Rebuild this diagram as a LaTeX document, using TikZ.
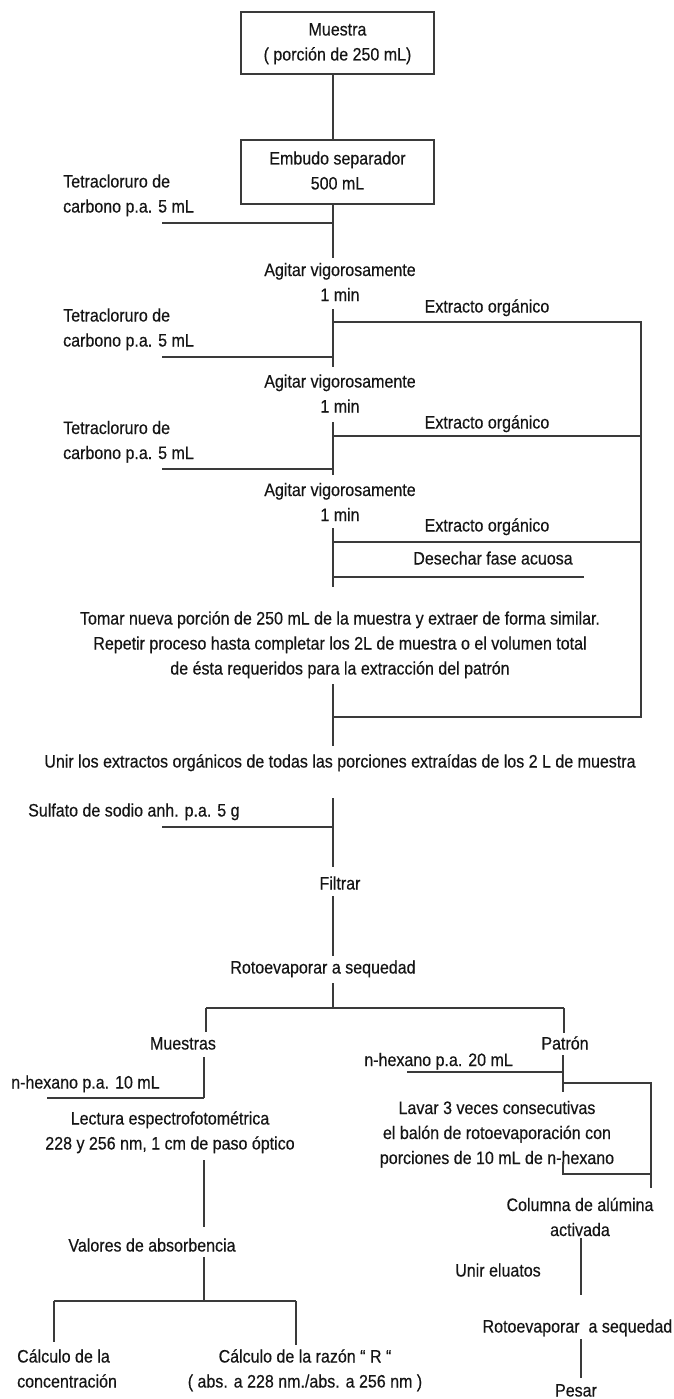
\documentclass[tikz,border=0pt]{standalone}
\usepackage{fontspec}
\setmainfont{Liberation Sans}[FakeStretch=0.89, FakeBold=0.4]
\definecolor{lc}{HTML}{3A3A3A}
\definecolor{tc}{HTML}{151515}
\newcommand{\st}{\rule[-4pt]{0pt}{18pt}}
\begin{document}
\begin{tikzpicture}[x=1pt,y=-1pt,
  font=\fontsize{18}{25}\selectfont,
  ln/.style={line width=1.1pt, draw=lc},
  tx/.style={inner sep=0pt, align=center, text=tc},
  txl/.style={inner sep=0pt, align=left, text=tc, anchor=west},
  procbox/.style={draw=lc, line width=1.1pt, minimum width=193pt, minimum height=62pt, inner sep=0pt, align=center, text=tc}]
\useasboundingbox (0,0) rectangle (673,1399);

% ---------- nodes ----------
\node[procbox] (b1) at (337.5,43) {\st Muestra\\\st( porción de 250 mL)};
\node[procbox, minimum height=64pt] (b2) at (337.5,172) {\st Embudo separador\\\st 500 mL};

\node[txl] (t1) at (63,195) {\st Tetracloruro de\\\st carbono p.a. 5 mL};
\node[txl] (t2) at (63,329) {\st Tetracloruro de\\\st carbono p.a. 5 mL};
\node[txl] (t3) at (63,441.5) {\st Tetracloruro de\\\st carbono p.a. 5 mL};

\node[tx] (ag1) at (340,283.5) {\st Agitar vigorosamente\\\st 1 min};
\node[tx] (ag2) at (340,395) {\st Agitar vigorosamente\\\st 1 min};
\node[tx] (ag3) at (340,503.5) {\st Agitar vigorosamente\\\st 1 min};

\node[tx] (e1) at (487,307.5) {\st Extracto orgánico};
\node[tx] (e2) at (487,423.5) {\st Extracto orgánico};
\node[tx] (e3) at (487,526.5) {\st Extracto orgánico};
\node[tx] (des) at (493,559.5) {\st Desechar fase acuosa};

\node[tx] (tom) at (340,644.5) {\st Tomar nueva porción de 250 mL de la muestra y extraer de forma similar.\\\st Repetir proceso hasta completar los 2L de muestra o el volumen total\\\st de ésta requeridos para la extracción del patrón};

\node[tx] (uni) at (340,762.5) {\st Unir los extractos orgánicos de todas las porciones extraídas de los 2 L de muestra};
\node[txl] (sul) at (28,811.5) {\st Sulfato de sodio anh. p.a. 5 g};
\node[tx] (fil) at (340,884.5) {\st Filtrar};
\node[tx] (rot) at (323,968.5) {\st Rotoevaporar a sequedad};

\node[tx] (mues) at (183,1044.5) {\st Muestras};
\node[tx] (pat) at (565,1044.5) {\st Patrón};

\node[txl] (nh10) at (11,1083.5) {\st n-hexano p.a. 10 mL};
\node[tx, anchor=east] (nh20) at (513,1061) {\st n-hexano p.a. 20 mL};

\node[tx] (lec) at (170,1132) {\st Lectura espectrofotométrica\\\st 228 y 256 nm, 1 cm de paso óptico};
\node[tx] (val) at (152,1246.5) {\st Valores de absorbencia};
\node[txl] (cc) at (17,1370) {\st Cálculo de la\\\st concentración};
\node[tx] (cr) at (305,1370) {\st Cálculo de la razón “ R “\\\st ( abs. a 228 nm./abs. a 256 nm )};

\node[tx] (lav) at (497,1134) {\st Lavar 3 veces consecutivas\\\st el balón de rotoevaporación con\\\st porciones de 10 mL de n-hexano};
\node[tx] (col) at (580,1218.5) {\st Columna de alúmina\\\st activada};
\node[tx] (uel) at (498,1271.5) {\st Unir eluatos};
\node[tx, anchor=east] (rot2) at (672.5,1327.5) {\st Rotoevaporar\ \ a sequedad};
\node[tx] (pes) at (576,1391.5) {\st Pesar};

% ---------- junction coordinates ----------
\coordinate (sp) at (333,0);
\coordinate (a1) at (333,258);
\coordinate (j1) at (333,223);  \coordinate (l1) at (162,223);
\coordinate (a2) at (333,309);  \coordinate (a3) at (333,367);
\coordinate (x1) at (333,322);  \coordinate (r1) at (641,322);
\coordinate (j2) at (333,357);  \coordinate (l2) at (162,357);
\coordinate (a4) at (333,422);  \coordinate (a5) at (333,475);
\coordinate (x2) at (333,436);  \coordinate (r2) at (641,436);
\coordinate (j3) at (333,469);  \coordinate (l3) at (162,469);
\coordinate (a6) at (333,528);  \coordinate (a7) at (333,587);
\coordinate (x3) at (333,542);  \coordinate (r3) at (641,542);
\coordinate (d1) at (333,577);  \coordinate (d2) at (584,577);
\coordinate (a8) at (333,684);  \coordinate (a9) at (333,746);
\coordinate (x4) at (333,717);  \coordinate (r4) at (641,717);
\coordinate (a10) at (333,798); \coordinate (a11) at (333,867);
\coordinate (j4) at (333,827);  \coordinate (l4) at (162,827);
\coordinate (a12) at (333,896); \coordinate (a13) at (333,956);
\coordinate (a14) at (333,983); \coordinate (br) at (333,1008);
\coordinate (bl) at (206,1008); \coordinate (bre) at (564,1008);
\coordinate (blb) at (206,1032); \coordinate (breb) at (564,1033);
% left branch
\coordinate (m1) at (204,1057); \coordinate (m2) at (204,1098); \coordinate (n10) at (47,1098);
\coordinate (m3) at (204,1160); \coordinate (m4) at (204,1227);
\coordinate (m5) at (204,1257); \coordinate (m6) at (204,1301);
\coordinate (hl) at (54,1301);  \coordinate (hr) at (296,1301);
\coordinate (hlb) at (54,1342); \coordinate (hrb) at (296,1345);
% right branch
\coordinate (p1) at (563,1055); \coordinate (p2) at (563,1092);
\coordinate (pj) at (563,1072); \coordinate (n20) at (407,1072);
\coordinate (k1) at (563,1083); \coordinate (k2) at (651,1083); \coordinate (k3) at (651,1188);
\coordinate (k4) at (563,1174); \coordinate (k5) at (651,1174); \coordinate (k6) at (563,1162);
\coordinate (c1) at (581,1238); \coordinate (c2) at (581,1295);
\coordinate (c3) at (581,1339); \coordinate (c4) at (581,1378);

% ---------- connectors ----------
\draw[ln] (b1.south -| sp) -- (b2.north -| sp);
\draw[ln] (b2.south -| sp) -- (a1);
\draw[ln] (l1) -- (j1);
\draw[ln] (a2) -- (a3);
\draw[ln] (x1) -- (r1) -- (r4) -- (x4);
\draw[ln] (l2) -- (j2);
\draw[ln] (a4) -- (a5);
\draw[ln] (x2) -- (r2);
\draw[ln] (l3) -- (j3);
\draw[ln] (a6) -- (a7);
\draw[ln] (x3) -- (r3);
\draw[ln] (d1) -- (d2);
\draw[ln] (a8) -- (a9);
\draw[ln] (a10) -- (a11);
\draw[ln] (l4) -- (j4);
\draw[ln] (a12) -- (a13);
\draw[ln] (a14) -- (br);
\draw[ln] (bl) -- (bre);
\draw[ln, line width=2.4pt] (bl) -- (blb);
\draw[ln] (bre) -- (breb);
\draw[ln] (m1) -- (m2);
\draw[ln] (n10) -- (m2);
\draw[ln] (m3) -- (m4);
\draw[ln] (m5) -- (m6);
\draw[ln] (hl) -- (hr);
\draw[ln] (hl) -- (hlb);
\draw[ln] (hr) -- (hrb);
\draw[ln] (p1) -- (p2);
\draw[ln] (n20) -- (pj);
\draw[ln] (k1) -- (k2) -- (k3);
\draw[ln] (k6) -- (k4) -- (k5);
\draw[ln] (c1) -- (c2);
\draw[ln] (c3) -- (c4);
\end{tikzpicture}
\end{document}
